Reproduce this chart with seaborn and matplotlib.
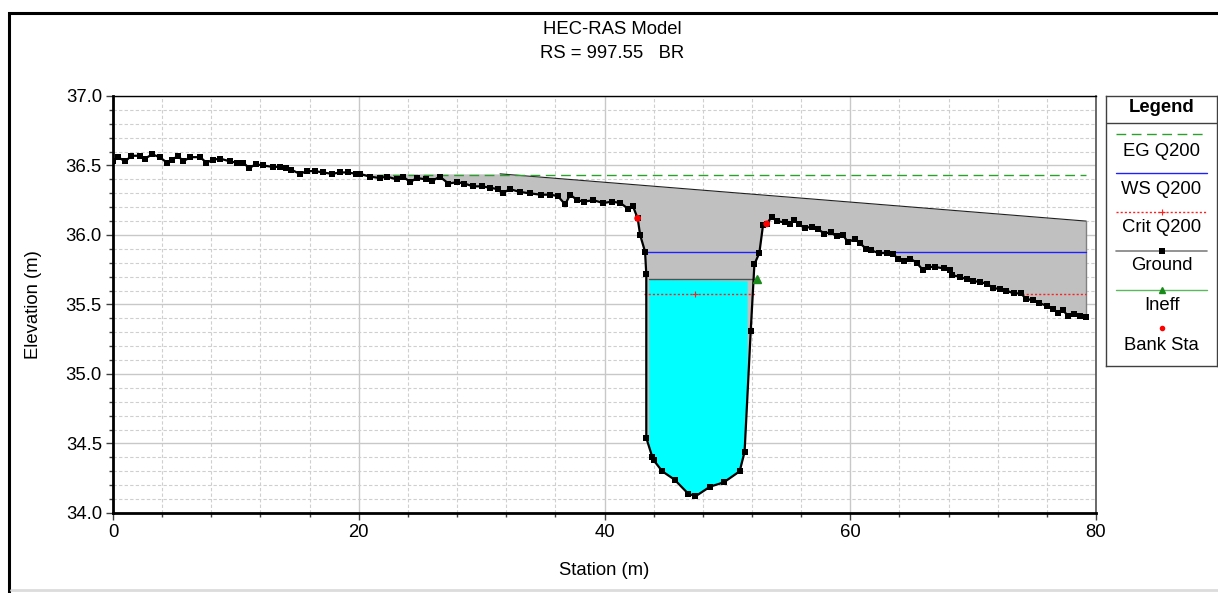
import numpy as np
import pandas as pd
import matplotlib
matplotlib.use("Agg")
import matplotlib.pyplot as plt
from matplotlib.patches import Rectangle
from matplotlib.lines import Line2D
from matplotlib.ticker import MultipleLocator, FormatStrFormatter
import seaborn as sns

sns.set_style("white")
plt.rcParams["font.family"] = ["Liberation Sans", "DejaVu Sans"]
plt.rcParams["text.color"] = "black"
plt.rcParams["axes.labelcolor"] = "black"
plt.rcParams["xtick.color"] = "black"
plt.rcParams["ytick.color"] = "black"

FS = 13.3

# ground profile (station m, elevation m)
station = [0.0, 0.4, 1.0, 1.5, 2.2, 2.6, 3.2, 3.8, 4.4, 4.8, 5.3, 5.7, 6.3, 7.1, 7.6,
           8.1, 8.7, 9.5, 10.1, 10.6, 11.1, 11.6, 12.2, 13.0, 13.6, 14.1, 14.5, 15.2,
           15.8, 16.4, 17.1, 17.8, 18.5, 19.1, 19.8, 20.1, 20.9, 21.7, 22.3, 23.1, 23.6,
           24.2, 24.7, 25.5, 26.0, 26.6, 27.3, 28.0, 28.6, 29.3, 30.0, 30.7, 31.3, 31.7,
           32.3, 33.1, 33.9, 34.8, 35.6, 36.2, 36.8, 37.2, 37.8, 38.3, 39.1, 39.9, 40.6,
           41.3, 41.9, 42.3, 42.7, 42.9, 43.3, 43.4, 43.4, 43.9, 44.0, 44.7, 45.7, 46.8,
           47.4, 48.6, 49.7, 51.0, 51.4, 51.9, 52.2, 52.6, 52.9, 53.2, 53.6, 54.0, 54.7,
           55.1, 55.4, 55.8, 56.3, 56.9, 57.4, 57.9, 58.4, 58.9, 59.4, 59.8, 60.4, 60.8,
           61.3, 61.7, 62.3, 63.0, 63.5, 63.9, 64.4, 64.9, 65.4, 65.9, 66.3, 66.9, 67.6,
           68.1, 68.3, 68.9, 69.5, 70.0, 70.6, 71.1, 71.6, 72.2, 72.7, 73.3, 73.9, 74.3,
           74.9, 75.4, 76.0, 76.5, 76.9, 77.3, 77.7, 78.2, 78.7, 79.2]
ground = [36.53, 36.56, 36.53, 36.57, 36.57, 36.55, 36.58, 36.56, 36.52, 36.54, 36.57,
          36.53, 36.56, 36.56, 36.52, 36.54, 36.55, 36.53, 36.52, 36.52, 36.48, 36.51,
          36.50, 36.49, 36.49, 36.48, 36.47, 36.44, 36.46, 36.46, 36.45, 36.44, 36.45,
          36.45, 36.44, 36.44, 36.42, 36.41, 36.42, 36.40, 36.42, 36.38, 36.41, 36.40,
          36.39, 36.42, 36.37, 36.38, 36.37, 36.35, 36.35, 36.34, 36.33, 36.30, 36.33,
          36.31, 36.30, 36.29, 36.29, 36.28, 36.22, 36.29, 36.25, 36.24, 36.25, 36.23,
          36.24, 36.23, 36.19, 36.21, 36.12, 36.00, 35.88, 35.72, 34.54, 34.40, 34.38,
          34.30, 34.24, 34.14, 34.12, 34.19, 34.22, 34.30, 34.44, 35.31, 35.79, 35.87,
          36.07, 36.08, 36.13, 36.10, 36.09, 36.08, 36.11, 36.08, 36.05, 36.06, 36.04,
          36.01, 36.02, 35.99, 36.00, 35.95, 35.97, 35.94, 35.90, 35.89, 35.87, 35.87,
          35.86, 35.83, 35.81, 35.83, 35.80, 35.75, 35.77, 35.77, 35.76, 35.75, 35.71,
          35.70, 35.68, 35.67, 35.66, 35.65, 35.62, 35.61, 35.60, 35.58, 35.58, 35.54,
          35.53, 35.51, 35.49, 35.47, 35.44, 35.46, 35.42, 35.43, 35.42, 35.41]

bank_sta = [42.7, 53.2]
bank_elev = [36.12, 36.08]

eg_elev = 36.435
eg_range = [20.3, 79.2]
ws_elev = 35.875
ws_segments = [(43.4, 52.6), (62.3, 79.2)]
crit_elev = 35.573
crit_segments = [(43.2, 52.25), (74.0, 79.2)]
crit_marks = [47.4]

deck_sta = [20.0, 31.5, 79.2]
deck_elev = [36.44, 36.44, 36.10]
opening_sta = [43.6, 51.6]
low_chord = [35.68, 35.67]
ineff_sta = [52.4]
ineff_elev = [35.68]

W, H = 1218, 593
fig = plt.figure(figsize=(W / 100, H / 100), dpi=100)
ax = fig.add_axes([113 / W, 1 - 513 / H, 983 / W, 417 / H])

sta = np.array(station)
z = np.array(ground)

# bridge deck (gray) between deck top and ground
top = np.interp(sta, deck_sta, deck_elev)
ax.fill_between(sta, z, top, where=(top > z) & (sta >= deck_sta[0]), interpolate=True,
                color="#c0c0c0", lw=0, zorder=1)
ax.plot(deck_sta[1:], deck_elev[1:], color="#202020", lw=0.8, zorder=2)
ax.plot([deck_sta[-1]] * 2, [deck_elev[-1], ground[-1]], color="#808080", lw=1, zorder=2)

# flow under the low chord (cyan)
inside = (sta > opening_sta[0]) & (sta < opening_sta[1])
cx = np.r_[opening_sta[0], sta[inside], opening_sta[1]]
cz = np.interp(cx, sta, z)
ctop = np.interp(cx, opening_sta, low_chord)
ax.fill_between(cx, cz, ctop, color="#00ffff", lw=0, zorder=2)
ax.plot([opening_sta[0], ineff_sta[0]], [low_chord[0], ineff_elev[0]],
        color="#505050", lw=1, zorder=3)

# water surfaces
ax.plot(eg_range, [eg_elev] * 2, color="#2ca02c", lw=1, dashes=(7, 4), zorder=4)
for a, b in ws_segments:
    ax.plot([a, b], [ws_elev] * 2, color="#1f1fff", lw=1, zorder=4)
for a, b in crit_segments:
    ax.plot([a, b], [crit_elev] * 2, color="#ff2020", lw=1, dashes=(1.5, 1.5), zorder=4)
ax.plot(crit_marks, [crit_elev] * len(crit_marks), "+", color="#ff2020", ms=4, mew=0.8, zorder=4)

# ground
df = pd.DataFrame({"Station": station, "Elevation": ground})
sns.lineplot(data=df, x="Station", y="Elevation", sort=False, estimator=None, ax=ax,
             color="black", lw=1.6, marker="s", markersize=4.4, markeredgewidth=0, zorder=5)
ax.plot(ineff_sta, ineff_elev, "^", color="#1a8a1a", ms=6, zorder=6)
sns.scatterplot(x=bank_sta, y=bank_elev, ax=ax, color="red", s=24, edgecolor="none", zorder=7)

ax.set_xlim(0, 80)
ax.set_ylim(34, 37)
ax.xaxis.set_major_locator(MultipleLocator(20))
ax.xaxis.set_minor_locator(MultipleLocator(4))
ax.yaxis.set_major_locator(MultipleLocator(0.5))
ax.yaxis.set_minor_locator(MultipleLocator(0.1))
ax.yaxis.set_major_formatter(FormatStrFormatter("%.1f"))
ax.set_axisbelow(True)
ax.grid(which="major", color="#c8c8c8", lw=1, ls="-")
ax.grid(which="minor", color="#cfcfcf", lw=0.8, ls=(0, (3, 2)))
ax.tick_params(which="major", direction="out", length=5, width=1, color="#404040",
               labelsize=FS, left=True, bottom=True, pad=3)
ax.tick_params(which="minor", direction="out", length=3, width=1, color="#404040",
               left=True, bottom=True)
for side in ["left", "bottom"]:
    ax.spines[side].set_linewidth(2)
    ax.spines[side].set_color("black")
ax.spines["top"].set_linewidth(1)
ax.spines["top"].set_color("black")
ax.spines["right"].set_linewidth(1.2)
ax.spines["right"].set_color("#505050")
ax.set_xlabel("Station (m)", fontsize=FS, labelpad=15)
ax.set_ylabel("Elevation (m)", fontsize=FS, labelpad=17)

fig.text(612 / W, 1 - 29 / H, "HEC-RAS Model", ha="center", va="center", fontsize=FS)
fig.text(612 / W, 1 - 54 / H, "RS = 997.55   BR", ha="center", va="center", fontsize=FS)

# legend box drawn HEC-RAS style (sample line above label)
lax = fig.add_axes([1106 / W, 1 - 366 / H, 111 / W, 270 / H])
lax.set_xlim(0, 111)
lax.set_ylim(270, 0)
lax.set_xticks([])
lax.set_yticks([])
for s in lax.spines.values():
    s.set_color("#404040")
    s.set_linewidth(1)
lax.text(55.5, 12, "Legend", ha="center", va="center", fontsize=FS, weight="bold")
lax.plot([0, 111], [27, 27], color="#404040", lw=1)
x0, x1, xm = 10, 101, 55.5
lax.plot([x0, x1], [38, 38], color="#2ca02c", lw=1, dashes=(7, 4))
lax.plot([x0, x1], [77, 77], color="#1f1fff", lw=1)
lax.plot([x0, x1], [116, 116], color="#ff2020", lw=1, dashes=(1.5, 1.5))
lax.plot([xm], [116], "+", color="#ff2020", ms=4, mew=0.8)
lax.plot([x0, x1], [155, 155], color="#808080", lw=1.2)
lax.plot([xm], [155], "s", color="black", ms=4, mew=0)
lax.plot([x0, x1], [194, 194], color="#5cb85c", lw=1)
lax.plot([xm], [194], "^", color="#1a8a1a", ms=5)
lax.plot([xm], [232], "o", color="red", ms=4, mew=0)
labels = [("EG Q200", 55), ("WS Q200", 93), ("Crit Q200", 132), ("Ground", 170),
          ("Ineff", 209), ("Bank Sta", 249)]
for txt, y in labels:
    lax.text(55.5, y, txt, ha="center", va="center", fontsize=FS)

# outer frame of the exported window
fig.add_artist(Rectangle((9 / W, -0.1), 1.2, 1.1 - 13 / H, transform=fig.transFigure,
                         fill=False, edgecolor="black", lw=2.2, clip_on=False))
fig.add_artist(Line2D([11 / W, 1], [1 - 590 / H] * 2, transform=fig.transFigure,
                      color="#dcdcdc", lw=2))

fig.savefig("out.png", dpi=100)
plt.close()
